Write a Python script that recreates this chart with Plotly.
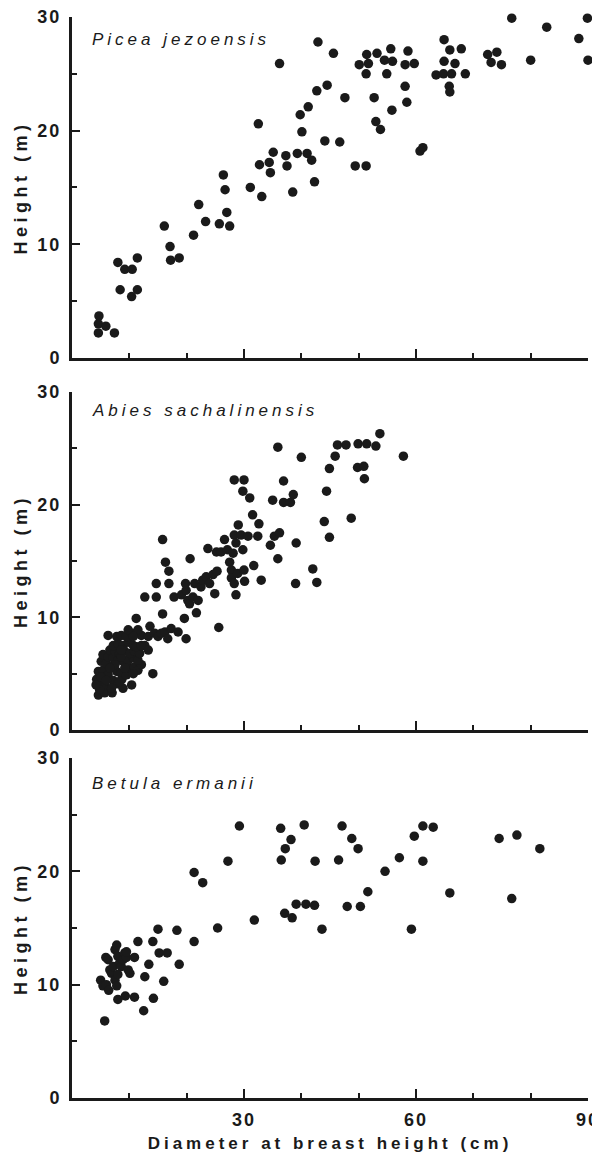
import plotly.graph_objects as go

# ---------------- data ----------------
species = ["Picea jezoensis", "Abies sachalinensis", "Betula ermanii"]

picea_dbh = [4.6, 4.7, 4.6, 5.9, 7.4, 8.0, 8.4, 9.2, 10.5, 10.4, 11.4, 11.4,
             16.1, 17.1, 17.2, 18.7, 21.2, 22.1, 23.3, 25.7, 27.5, 26.4, 26.7, 27.0,
             31.1, 32.5, 32.7, 33.1, 34.4, 34.6, 35.1, 36.2, 37.3, 37.5, 38.5, 39.3,
             39.8, 40.1, 41.2, 42.9, 42.7, 44.5, 45.6, 47.6, 44.1, 46.7, 41.0, 41.8,
             42.3, 49.4, 51.3, 50.1, 51.4, 51.7, 51.3, 53.2, 52.7, 53.0, 53.8, 54.5,
             54.9, 55.6, 55.9, 55.8, 58.1, 58.6, 59.7, 58.1, 58.4, 60.7, 61.2, 64.9,
             65.9, 67.9, 64.9, 66.8, 63.5, 64.8, 66.2, 68.6, 65.8, 65.9, 72.5, 74.1,
             73.1, 74.9, 76.7, 80.0, 82.8, 88.4, 89.9, 90.0]
picea_h = [2.2, 3.7, 3.0, 2.8, 2.2, 8.4, 6.0, 7.8, 7.8, 5.4, 8.8, 6.0,
           11.6, 9.8, 8.6, 8.8, 10.8, 13.5, 12.0, 11.8, 11.6, 16.1, 14.8, 12.8,
           15.0, 20.6, 17.0, 14.2, 17.2, 16.3, 18.1, 25.9, 17.8, 16.9, 14.6, 18.0,
           21.4, 19.9, 22.1, 27.8, 23.5, 24.0, 26.8, 22.9, 19.1, 19.0, 18.0, 17.4,
           15.5, 16.9, 16.9, 25.8, 26.7, 25.9, 25.0, 26.8, 22.9, 20.8, 20.1, 26.2,
           25.0, 27.2, 26.1, 21.8, 25.8, 27.0, 25.9, 23.9, 22.5, 18.2, 18.5, 28.0,
           27.1, 27.2, 26.1, 25.9, 24.9, 25.0, 25.0, 25.0, 23.9, 23.4, 26.7, 26.9,
           26.0, 25.8, 29.9, 26.2, 29.1, 28.1, 29.9, 26.2]

abies_dbh = [6.3, 11.2, 12.7, 14.7, 14.7, 15.8, 15.8, 16.3, 16.9, 16.9, 17.8, 19.1,
             19.6, 19.9, 20.2, 20.6, 19.8, 20.5, 21.1, 21.4, 21.7, 22.0, 22.5, 22.8,
             23.4, 23.7, 24.0, 24.6, 24.9, 25.3, 25.6, 25.2, 26.0, 26.6, 27.1, 27.5,
             27.8, 27.8, 28.1, 28.3, 28.6, 28.3, 28.6, 28.9, 29.0, 29.5, 29.8, 30.0,
             30.1, 30.7, 31.5, 31.7, 32.4, 32.6, 33.0, 28.3, 30.0, 29.8, 31.0, 34.6,
             35.0, 35.3, 35.9, 36.2, 35.9, 36.9, 36.9, 38.1, 38.6, 39.1, 39.0, 40.0,
             12.1, 13.3, 14.1, 12.7, 13.6, 14.4, 15.0, 15.6, 16.2, 16.7, 17.3, 18.5,
             19.9,
             4.6, 5.7, 7.0, 4.3, 5.0, 5.8, 4.6, 5.4, 6.3, 7.2, 8.0, 8.7, 10.4, 5.1,
             6.0, 6.9, 7.8, 8.6, 9.5, 10.1, 10.9, 11.5, 12.1, 5.4, 6.3, 7.2, 8.0, 8.9,
             9.8, 10.7, 11.5, 6.6, 7.5, 8.3, 9.2, 10.1, 10.9, 11.8, 7.2, 8.0, 8.9, 9.8,
             10.7, 7.8, 8.6, 9.5, 10.4, 11.5, 9.8, 8.9, 6.9, 7.5, 8.6, 4.8, 4.2, 5.1,
             6.0, 6.6, 8.3, 9.2, 10.7, 11.2, 8.6, 10.7, 12.1, 13.3,
             42.0, 42.7, 44.0, 44.4, 44.9, 44.9, 45.9, 46.3, 47.8, 48.7, 49.9, 51.4,
             53.0, 53.7, 49.8, 50.9, 51.0, 57.8]
abies_h = [8.4, 9.9, 11.8, 11.8, 13.0, 10.3, 16.9, 14.9, 14.1, 13.0, 11.8, 12.0,
           9.9, 12.4, 11.5, 15.2, 13.0, 11.2, 11.8, 13.0, 10.4, 11.5, 12.7, 13.3,
           13.6, 16.1, 13.0, 13.8, 12.1, 14.1, 9.1, 15.8, 15.8, 16.9, 16.0, 14.9,
           14.2, 13.5, 15.7, 17.3, 16.6, 13.0, 12.0, 13.9, 18.2, 17.3, 16.0, 14.2,
           13.2, 17.2, 19.1, 14.6, 17.2, 18.3, 13.3, 22.2, 22.2, 21.2, 20.6, 16.4,
           20.4, 17.2, 15.2, 17.5, 25.1, 22.1, 20.2, 20.2, 20.9, 16.6, 13.0, 24.2,
           8.4, 8.3, 5.0, 7.5, 9.2, 8.6, 8.3, 8.6, 8.7, 8.1, 9.0, 8.7,
           8.1,
           3.1, 3.3, 3.3, 4.5, 4.0, 3.9, 5.2, 5.3, 4.9, 4.4, 4.1, 4.5, 4.0, 6.1,
           5.9, 5.6, 5.2, 5.0, 4.9, 5.5, 5.6, 5.3, 5.8, 6.7, 6.5, 6.4, 6.2, 6.1,
           6.2, 6.4, 6.2, 7.1, 7.0, 6.8, 7.0, 6.8, 7.0, 6.8, 7.5, 7.7, 7.5, 7.8,
           7.5, 8.3, 8.4, 8.3, 8.6, 8.9, 8.9, 3.7, 3.7, 5.8, 6.5, 3.6, 4.0, 4.7,
           4.4, 5.5, 4.3, 5.5, 5.0, 7.4, 7.1, 8.3, 7.5, 7.1,
           14.3, 13.1, 18.5, 21.2, 23.2, 17.1, 24.3, 25.3, 25.3, 18.8, 25.4, 25.4,
           25.2, 26.3, 23.3, 23.4, 22.3, 24.3]

betula_dbh = [5.0, 5.4, 6.0, 6.4, 5.7, 5.9, 6.3, 6.6, 6.9, 7.2, 7.5, 7.8, 8.0, 8.3,
              7.5, 7.8, 8.0, 8.6, 8.9, 9.2, 9.5, 9.8, 10.1, 9.5, 10.9, 8.0, 9.3, 10.9,
              11.5, 12.7, 12.5, 13.4, 14.1, 14.2, 15.0, 15.2, 16.6, 16.0, 18.3, 18.7,
              21.3, 21.3, 22.8, 25.4, 27.2, 29.2, 31.8, 36.4, 36.5, 37.2, 38.2, 37.1,
              38.4, 39.1, 40.5, 42.4, 40.8, 42.3, 43.6, 46.5, 47.1, 48.8, 49.9, 48.0,
              50.3, 51.6, 54.6, 57.1, 59.2, 59.7, 61.2, 61.2, 63.0, 65.9, 74.5, 77.6,
              76.7, 81.6]
betula_h = [10.4, 9.9, 10.0, 9.5, 6.8, 12.4, 12.2, 11.3, 11.0, 11.6, 13.1, 13.5, 12.5,
            11.9, 10.4, 9.9, 10.9, 11.6, 12.2, 12.8, 12.4, 11.3, 11.0, 12.9, 12.4,
            8.7, 9.0, 8.9, 13.8, 10.7, 7.7, 11.8, 13.8, 8.8, 14.9, 12.8, 12.8, 10.3,
            14.8, 11.8, 13.8, 19.9, 19.0, 15.0, 20.9, 24.0, 15.7, 23.8, 21.0, 22.0,
            22.8, 16.3, 15.9, 17.1, 24.1, 20.9, 17.1, 17.0, 14.9, 21.0, 24.0, 22.9,
            22.0, 16.9, 16.9, 18.2, 20.0, 21.2, 14.9, 23.1, 24.0, 20.9, 23.9, 18.1,
            22.9, 23.2, 17.6, 22.0]

series_x = [picea_dbh, abies_dbh, betula_dbh]
series_y = [picea_h, abies_h, betula_h]

x_tick_step = 30
x_minor_step = 10
y_tick_step = 10
y_minor_step = 5

x_title = "Diameter at breast height (cm)"
y_title = "Height (m)"

# ---------------- figure ----------------
INK = "#1a1a1a"
CLEAR = "rgba(0,0,0,0)"
FONT = "Liberation Sans, Arial, sans-serif"
XRANGE = [0, 90]
YRANGE = [0, 30]

domains = [[0.6846, 1.0], [0.3404, 0.6531], [0.0, 0.3145]]
label_y = [0.935, 0.945, 0.925]

tick_font = dict(family=FONT, size=18, color=INK, weight="bold")
title_font = dict(family=FONT, size=18, color=INK, weight="bold")

fig = go.Figure()
for i in range(3):
    sx = "" if i == 0 else str(i + 1)          # x, x2, x3 / y, y2, y3 : drawn axes
    sl = str(i + 4)                             # y4, y5, y6 : label-only axes
    fig.add_trace(go.Scatter(
        x=series_x[i], y=series_y[i], mode="markers",
        marker=dict(size=9.5, color=INK, line=dict(width=0)),
        cliponaxis=False, showlegend=False, hoverinfo="x+y",
        xaxis="x" + sx, yaxis="y" + sx,
    ))
    fig.add_trace(go.Scatter(x=[], y=[], mode="markers", showlegend=False,
                             hoverinfo="skip", xaxis="x" + sx, yaxis="y" + sl))

    fig.layout["xaxis" + sx] = dict(
        range=XRANGE, domain=[0, 1], anchor="y" + sx, automargin=False,
        showline=True, linewidth=2.5, linecolor=INK,
        showgrid=False, zeroline=False,
        ticks="inside", tickmode="linear", tick0=0, dtick=x_tick_step,
        ticklen=9, tickwidth=2, tickcolor=INK,
        minor=dict(ticks="inside", tickmode="linear", tick0=0, dtick=x_minor_step,
                   ticklen=5, tickwidth=2, tickcolor=INK, showgrid=False),
        showticklabels=False,
    )
    fig.layout["yaxis" + sx] = dict(
        range=YRANGE, domain=domains[i], anchor="x" + sx, automargin=False,
        showline=True, linewidth=2.5, linecolor=INK,
        showgrid=False, zeroline=False,
        ticks="inside", tickmode="linear", tick0=0, dtick=y_tick_step,
        ticklen=8, tickwidth=2, tickcolor=INK,
        minor=dict(ticks="inside", tickmode="linear", tick0=0, dtick=y_minor_step,
                   ticklen=5, tickwidth=2, tickcolor=INK, showgrid=False),
        showticklabels=False,
    )
    fig.layout["yaxis" + sl] = dict(
        range=YRANGE, overlaying="y" + sx, anchor="x" + sx, side="left",
        automargin=False,
        showline=False, showgrid=False, zeroline=False,
        ticks="outside", tickmode="linear", tick0=0, dtick=y_tick_step,
        ticklen=6, tickcolor=CLEAR, ticklabeloverflow="allow",
        tickfont=tick_font,
        title=dict(text=y_title, standoff=9, font=title_font),
    )

    fig.add_annotation(
        text=species[i], xref=("x" + sx + " domain"), yref=("y" + sx + " domain"),
        x=0.035, y=label_y[i], xanchor="left", yanchor="middle", align="left",
        showarrow=False,
        font=dict(family=FONT, size=17, color=INK, style="italic"),
    )

fig.add_trace(go.Scatter(x=[], y=[], mode="markers", showlegend=False,
                         hoverinfo="skip", xaxis="x4", yaxis="y3"))
fig.layout["xaxis4"] = dict(
    range=XRANGE, overlaying="x3", anchor="y3", side="bottom", automargin=False,
    showline=False, showgrid=False, zeroline=False,
    ticks="outside", tickmode="array", tickvals=[30, 60, 90],
    ticklen=5, tickcolor=CLEAR, ticklabeloverflow="allow",
    tickfont=tick_font,
    title=dict(text=x_title, standoff=8,
               font=dict(family=FONT, size=17, color=INK, weight="bold")),
)

# the page body has an 8px default margin, so the figure is sized to fit
fig.update_layout(
    template="none",
    width=592, height=1147,
    margin=dict(l=64, r=12, t=9, b=57, autoexpand=False),
    paper_bgcolor="white", plot_bgcolor="white",
    showlegend=False,
)

spacing_js = """
var gd = document.getElementById('{plot_id}');
function spaceText(){
  gd.querySelectorAll('g.x4tick text, g.y4tick text, g.y5tick text, g.y6tick text')
    .forEach(function(t){ t.style.letterSpacing = '2px'; });
  gd.querySelectorAll('text.x4title')
    .forEach(function(t){ t.style.letterSpacing = '4px'; });
  gd.querySelectorAll('text.y4title, text.y5title, text.y6title')
    .forEach(function(t){ t.style.letterSpacing = '4.5px'; });
  gd.querySelectorAll('text.annotation-text')
    .forEach(function(t){ t.style.letterSpacing = '4px'; });
}
spaceText();
gd.on('plotly_afterplot', spaceText);
"""

fig.write_html("out.html", post_script=spacing_js)
